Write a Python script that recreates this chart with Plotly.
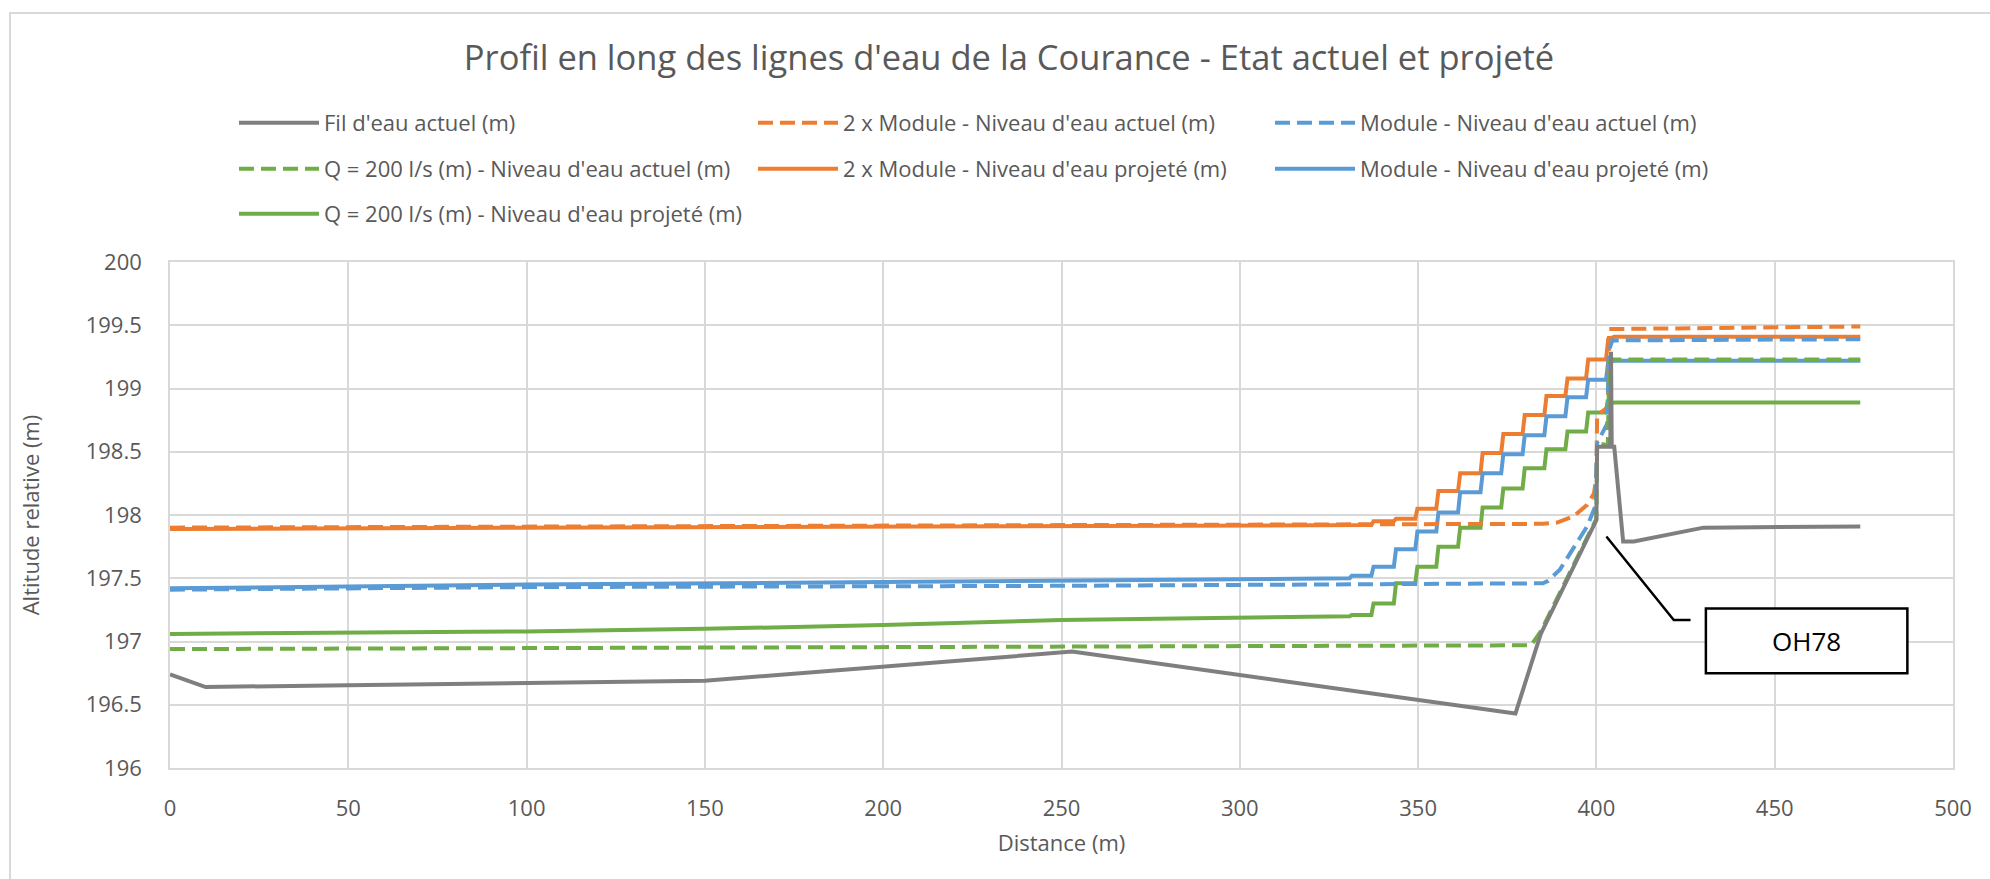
import plotly.graph_objects as go

# ---------------- data ----------------
dist_fil = [0, 10, 50, 100, 150, 253, 377.3, 384.4, 400, 400.2, 403.9, 404.1, 404.3, 405, 407.5, 410.5, 430, 474]
z_fil = [196.74, 196.64, 196.655, 196.67, 196.69, 196.92, 196.43, 197.06, 197.96, 198.54, 198.54, 199.29, 198.54, 198.54, 197.79, 197.79, 197.90, 197.91]

dist_2mod_act = [0, 100, 250, 385, 389, 393.6, 397.4, 399.3, 400, 400.2, 403.2, 403.6, 474]
z_2mod_act = [197.90, 197.91, 197.92, 197.93, 197.94, 197.99, 198.08, 198.17, 198.30, 198.79, 198.85, 199.47, 199.49]

dist_mod_act = [0, 100, 250, 385, 386.5, 389.8, 393.6, 397.4, 399.7, 400.2, 403.0, 403.5, 404.5, 474]
z_mod_act = [197.41, 197.43, 197.44, 197.46, 197.48, 197.57, 197.74, 197.91, 198.07, 198.57, 198.72, 199.30, 199.38, 199.39]

dist_q200_act = [0, 250, 381.7, 384.4, 400, 400.2, 403.2, 403.6, 404.5, 474]
z_q200_act = [196.94, 196.96, 196.97, 197.08, 197.97, 198.57, 198.55, 199.21, 199.23, 199.23]

dist_2mod_proj = [0, 100, 250, 336.9, 337.5, 343.2, 343.8, 349.2, 349.8, 355.1, 355.7, 361.2, 361.8,
                  367.5, 368.1, 373.3, 373.9, 379.3, 379.9, 385.4, 386.0, 391.3, 391.9, 397.1, 397.7,
                  402.7, 403.3, 405, 474]
z_2mod_proj = [197.89, 197.90, 197.91, 197.92, 197.95, 197.95, 197.97, 197.97, 198.05, 198.05, 198.19,
               198.19, 198.33, 198.33, 198.49, 198.49, 198.64, 198.64, 198.79, 198.79, 198.94, 198.94,
               199.08, 199.08, 199.23, 199.23, 199.39, 199.41, 199.41]

dist_mod_proj = [0, 100, 200, 250, 330.8, 331.4, 336.9, 337.5, 343.2, 343.8, 349.2, 349.8, 355.1, 355.7,
                 361.2, 361.8, 367.5, 368.1, 373.3, 373.9, 379.3, 379.9, 385.4, 386.0, 391.3, 391.9,
                 397.1, 397.7, 402.7, 403.3, 405, 474]
z_mod_proj = [197.42, 197.45, 197.47, 197.48, 197.50, 197.52, 197.52, 197.59, 197.59, 197.73, 197.73,
              197.87, 197.87, 198.02, 198.02, 198.18, 198.18, 198.33, 198.33, 198.48, 198.48, 198.63,
              198.63, 198.78, 198.78, 198.93, 198.93, 199.07, 199.07, 199.21, 199.22, 199.22]

dist_q200_proj = [0, 50, 100, 150, 200, 250, 300, 330.8, 331.4, 336.9, 337.5, 343.2, 343.8, 349.2, 349.8,
                  355.1, 355.7, 361.2, 361.8, 367.5, 368.1, 373.3, 373.9, 379.3, 379.9, 385.4, 386.0,
                  391.3, 391.9, 397.1, 397.7, 402.5, 403.1, 405, 474]
z_q200_proj = [197.06, 197.07, 197.08, 197.10, 197.13, 197.17, 197.19, 197.20, 197.21, 197.21, 197.30,
               197.30, 197.46, 197.46, 197.59, 197.59, 197.75, 197.75, 197.90, 197.90, 198.06, 198.06,
               198.21, 198.21, 198.37, 198.37, 198.52, 198.52, 198.66, 198.66, 198.81, 198.81, 198.88,
               198.89, 198.89]

names = [
    "Fil d'eau actuel (m)",
    "2 x Module - Niveau d'eau actuel (m)",
    "Module - Niveau d'eau actuel (m)",
    "Q = 200 l/s (m) - Niveau d'eau actuel (m)",
    "2 x Module - Niveau d'eau projeté (m)",
    "Module - Niveau d'eau projeté (m)",
    "Q = 200 l/s (m) - Niveau d'eau projeté (m)",
]

x_ticks = [0, 50, 100, 150, 200, 250, 300, 350, 400, 450, 500]
y_ticks = [196, 196.5, 197, 197.5, 198, 198.5, 199, 199.5, 200]

# callout (OH78) geometry in data units
callout_x = [402.8, 421.7, 426.4]
callout_y = [197.83, 197.17, 197.17]
box_x = [430.7, 487.2]
box_y = [196.75, 197.26]
callout_text = "OH78"

# ---------------- styling ----------------
GRAY = "#7F7F7F"
ORANGE = "#ED7D31"
BLUE = "#5B9BD5"
GREEN = "#70AD47"
TXT = "#595959"
FONT = "Open Sans"
LW = 4
DASH = "15px,7px"

W, H = 1990, 879
L, R, T, B = 170, 37, 262, 111
PW, PH = W - L - R, H - T - B

def px2paper_x(px):
    return (px - L) / PW

def py2paper_y(py):
    return (H - B - py) / PH

series = [
    (dist_fil, z_fil, GRAY, "solid"),
    (dist_2mod_act, z_2mod_act, ORANGE, DASH),
    (dist_mod_act, z_mod_act, BLUE, DASH),
    (dist_q200_act, z_q200_act, GREEN, DASH),
    (dist_2mod_proj, z_2mod_proj, ORANGE, "solid"),
    (dist_mod_proj, z_mod_proj, BLUE, "solid"),
    (dist_q200_proj, z_q200_proj, GREEN, "solid"),
]

# legend placement: 3 columns x 3 rows (pixel positions of symbol start / row centre)
leg_cols = [239, 758, 1275]
leg_rows = [123, 169, 214]

fig = go.Figure()
draw_order = [4, 5, 6, 1, 2, 3, 0]
legend_ids = ["legend"] + ["legend%d" % i for i in range(2, 8)]
for idx in draw_order:
    xs, ys, col, dash = series[idx]
    fig.add_trace(go.Scatter(
        x=xs, y=ys, mode="lines", name=names[idx],
        line=dict(color=col, width=LW, dash=dash),
        legend=legend_ids[idx], hoverinfo="x+y+name",
    ))

layout_legends = {}
for i in range(7):
    c, r = i % 3, i // 3
    layout_legends[legend_ids[i]] = dict(
        x=px2paper_x(leg_cols[c] - 5), xanchor="left",
        y=py2paper_y(leg_rows[r]), yanchor="middle",
        orientation="h", bgcolor="rgba(0,0,0,0)", borderwidth=0,
        font=dict(family=FONT, size=22, color=TXT),
        itemwidth=80, itemclick=False, itemdoubleclick=False,
    )

shapes = [
    # chart frame
    dict(type="rect", xref="paper", yref="paper",
         x0=px2paper_x(10), x1=px2paper_x(2010), y0=py2paper_y(900), y1=py2paper_y(13),
         line=dict(color="#D9D9D9", width=2), fillcolor="rgba(0,0,0,0)", layer="below"),
    # callout leader line
    dict(type="path", xref="x", yref="y",
         path="M %g,%g L %g,%g L %g,%g" % (callout_x[0], callout_y[0], callout_x[1], callout_y[1],
                                          callout_x[2], callout_y[2]),
         line=dict(color="black", width=2.5)),
    # callout box
    dict(type="rect", xref="x", yref="y", x0=box_x[0], x1=box_x[1], y0=box_y[0], y1=box_y[1],
         line=dict(color="black", width=2.5), fillcolor="white"),
]

annotations = [
    dict(x=(box_x[0] + box_x[1]) / 2, y=(box_y[0] + box_y[1]) / 2, xref="x", yref="y",
         text=callout_text, showarrow=False,
         font=dict(family=FONT, size=26, color="black")),
]

fig.update_layout(
    width=W, height=H,
    margin=dict(l=L, r=R, t=T, b=B, autoexpand=False),
    paper_bgcolor="white", plot_bgcolor="white",
    font=dict(family=FONT, size=22, color=TXT),
    title=dict(text="Profil en long des lignes d'eau de la Courance - Etat actuel et projeté",
               x=1009 / W, xref="container", xanchor="center",
               y=1 - 58 / H, yanchor="middle",
               font=dict(family=FONT, size=34.5, color=TXT)),
    xaxis=dict(range=[0, 500], tickvals=x_ticks, ticks="", showgrid=True,
               gridcolor="#D9D9D9", gridwidth=1.6, zeroline=False,
               showline=True, linecolor="#D9D9D9", linewidth=1.6, mirror=True,
               ticklabelstandoff=20, tickfont=dict(size=22, color=TXT),
               title=dict(text="Distance (m)", standoff=14, font=dict(size=22, color=TXT)),
               fixedrange=True),
    yaxis=dict(range=[196, 200], tickvals=y_ticks, ticks="", showgrid=True,
               gridcolor="#D9D9D9", gridwidth=1.6, zeroline=False,
               showline=True, linecolor="#D9D9D9", linewidth=1.6, mirror=True,
               ticklabelstandoff=22, tickfont=dict(size=22, color=TXT),
               title=dict(text="Altitude relative (m)", standoff=40, font=dict(size=22, color=TXT)),
               fixedrange=True),
    shapes=shapes,
    annotations=annotations,
    showlegend=True,
    **layout_legends,
)

fig.write_html("out.html", config={"displayModeBar": False},
               post_script="document.body.style.margin='0';document.body.style.overflow='hidden';")
